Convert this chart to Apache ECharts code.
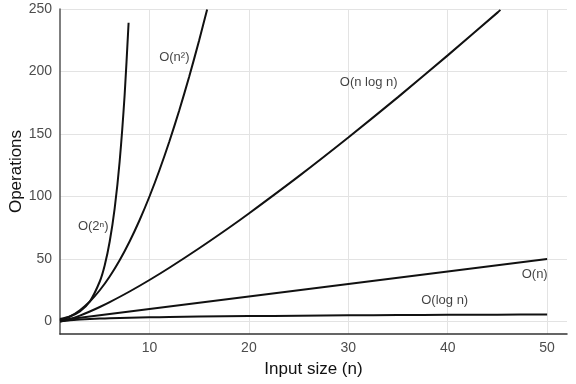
<!DOCTYPE html>
<html><head><meta charset="utf-8">
<script src="https://cdn.jsdelivr.net/npm/echarts@6/dist/echarts.min.js"></script>
<style>html,body{margin:0;padding:0;background:#fff}#c{width:576px;height:384px}</style>
</head><body><div id="c"></div>
<script>
// Values
const xTicks = [10, 20, 30, 40, 50];
const yTicks = [0, 50, 100, 150, 200, 250];

const expN   = [1, 2, 3, 4, 5, 5.5, 6, 6.5, 7, 7.5, 7.9];
const expV   = [2, 4, 8, 16, 32, 45, 64, 90.5, 128, 181, 239];

const sqN    = [1, 2, 3, 4, 5, 6, 7, 8, 9, 10, 11, 12, 13, 14, 15, 15.8];
const sqV    = [1, 4, 9, 16, 25, 36, 49, 64, 81, 100, 121, 144, 169, 196, 225, 249.6];

const nlogN  = [1, 2, 3, 4, 5, 6, 8, 10, 12, 15, 18, 20, 25, 30, 35, 40, 45, 45.3];
const nlogV  = [0, 2, 4.75, 8, 11.6, 15.5, 24, 33.2, 43, 58.6, 75, 86.4, 116.1, 147.2, 179.5, 212.9, 247.1, 249.3];

const linN   = [1, 50];
const linV   = [1, 50];

const logN   = [1, 2, 3, 4, 5, 6, 8, 10, 12, 15, 20, 25, 30, 35, 40, 45, 50];
const logV   = [0, 1, 1.58, 2, 2.32, 2.58, 3, 3.32, 3.58, 3.91, 4.32, 4.64, 4.91, 5.13, 5.32, 5.49, 5.64];

const labelNames = ['O(2ⁿ)', 'O(n²)', 'O(n log n)', 'O(n)', 'O(log n)'];
const labelX     = [4.35, 12.5, 32.05, 48.75, 39.7];
const labelY     = [76, 211.5, 191, 37.5, 16.5];

const zip = (a, b) => a.map((v, i) => [v, b[i]]);
const lineSeries = (xs, ys) => ({
  type: 'line', data: zip(xs, ys), smooth: 0.25, showSymbol: false,
  lineStyle: { color: '#111', width: 2 }, silent: true, animation: false, clip: true
});

const chart = echarts.init(document.getElementById('c'), null, { renderer: 'canvas' });
chart.setOption({
  animation: false,
  grid: { left: 60, right: 9, top: 9, bottom: 50, containLabel: false, outerBoundsMode: 'none' },
  xAxis: {
    type: 'value', min: 1, max: 52,
    name: 'Input size (n)', nameLocation: 'middle', nameGap: 27, nameMoveOverlap: false,
    nameTextStyle: { fontFamily: 'Liberation Sans', fontSize: 17, color: '#111' },
    axisLine: { onZero: false, lineStyle: { color: '#333', width: 1.5 } },
    axisTick: { show: false, customValues: xTicks },
    axisLabel: { customValues: xTicks, fontFamily: 'Liberation Sans', fontSize: 14, color: '#4d4d4d', margin: 7 },
    splitLine: { show: true, lineStyle: { color: '#e3e3e3', width: 1 } }
  },
  yAxis: {
    type: 'value', min: -10, max: 250,
    name: 'Operations', nameLocation: 'middle', nameGap: 35, nameRotate: 90, nameMoveOverlap: false,
    nameTextStyle: { fontFamily: 'Liberation Sans', fontSize: 17, color: '#111' },
    axisLine: { show: true, onZero: false, lineStyle: { color: '#555', width: 1.5 } },
    axisTick: { show: false, customValues: yTicks },
    axisLabel: { customValues: yTicks, fontFamily: 'Liberation Sans', fontSize: 14, color: '#4d4d4d', margin: 8 },
    splitLine: { show: true, lineStyle: { color: '#e3e3e3', width: 1 } }
  },
  series: [
    lineSeries(expN, expV),
    lineSeries(sqN, sqV),
    lineSeries(nlogN, nlogV),
    lineSeries(linN, linV),
    lineSeries(logN, logV),
    {
      type: 'scatter', symbolSize: 0, silent: true, animation: false,
      data: labelNames.map((n, i) => ({ value: [labelX[i], labelY[i]], name: n })),
      label: {
        show: true, position: 'inside', formatter: p => p.name,
        fontFamily: 'Liberation Sans', fontSize: 13, color: '#111'
      }
    }
  ]
});
</script></body></html>
